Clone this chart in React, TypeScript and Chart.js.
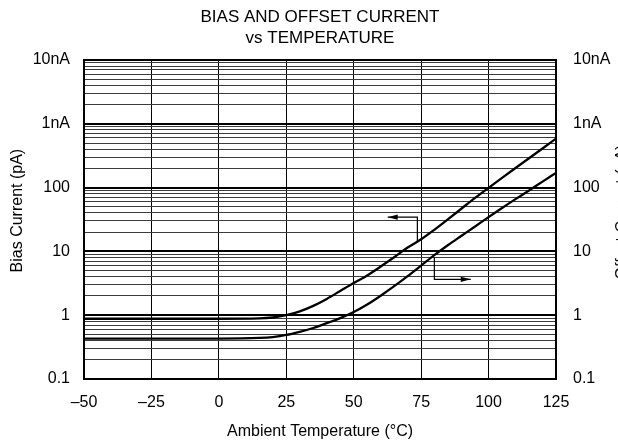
import { useEffect, useRef } from "react";
import { Chart, registerables } from "chart.js";
Chart.register(...registerables);

// ---- data ----
const TEMPS = [-50, -25, 0, 15, 20, 25, 30, 35, 40, 45, 50, 55, 60, 65, 70, 75, 80, 85, 90, 95, 100, 105, 110, 115, 120, 125];
const BIAS_PA = [0.88, 0.88, 0.88, 0.89, 0.92, 1.0, 1.15, 1.4, 1.8, 2.4, 3.2, 4.2, 5.8, 8.1, 11.5, 15.5, 22, 32, 47, 69, 99, 142, 203, 288, 410, 585];
const OFFSET_PA = [0.43, 0.43, 0.43, 0.44, 0.455, 0.49, 0.55, 0.63, 0.75, 0.9, 1.12, 1.47, 2.02, 2.85, 4.1, 6.0, 8.8, 12.6, 17.6, 24.6, 34.5, 48, 66, 90, 124, 170];

const X_TICKS = [-50, -25, 0, 25, 50, 75, 100, 125];
const Y_DECADES = [0.1, 1, 10, 100, 1000];
const Y_MINOR_MULT = [1, 2, 3, 4, 5, 6, 7, 8, 9];
const Y_LABEL_VALUES = [0.1, 1, 10, 100, 1000, 10000];
const Y_LABEL_TEXT = ["0.1", "1", "10", "100", "1nA", "10nA"];

// annotation arrows (data units: temperature, pA)
const ARROW_BIAS_T = [73.6, 73.6, 62.6];
const ARROW_BIAS_V = [14.5, 34.4, 34.4];
const ARROW_OFFSET_T = [79.9, 79.9, 93.4];
const ARROW_OFFSET_V = [8.0, 3.65, 3.65];

const TITLE = ["BIAS AND OFFSET CURRENT", "vs TEMPERATURE"];
const X_TITLE = "Ambient Temperature (°C)";
const Y_TITLE = "    Bias Current (pA)";
const Y2_TITLE = "Offset Current (pA)";

const FONT = "'Liberation Sans', Arial, sans-serif";
const W = 640;
const H = 444;

const yTickValues = (): number[] => {
  const v: number[] = [];
  Y_DECADES.forEach((d) => Y_MINOR_MULT.forEach((m) => v.push(+(m * d).toPrecision(4))));
  v.push(10000);
  return v;
};
const isPow10 = (v: number) => Math.abs(Math.log10(v) - Math.round(Math.log10(v))) < 1e-9;
const yLabel = (v: number) => {
  const i = Y_LABEL_VALUES.findIndex((lv) => Math.abs(lv - v) / lv < 1e-9);
  return i >= 0 ? Y_LABEL_TEXT[i] : "";
};

const arrowsPlugin = {
  id: "arrows",
  afterDatasetsDraw(chart: any) {
    const { ctx, scales } = chart;
    const xs = scales.x;
    const ys = scales.y;
    const drawArrow = (ts: number[], vs: number[]) => {
      const pts = ts.map((t, i) => [xs.getPixelForValue(t), ys.getPixelForValue(vs[i])]);
      ctx.save();
      ctx.strokeStyle = "#000";
      ctx.fillStyle = "#000";
      ctx.lineWidth = 1.2;
      ctx.beginPath();
      ctx.moveTo(pts[0][0], pts[0][1]);
      for (let i = 1; i < pts.length; i++) ctx.lineTo(pts[i][0], pts[i][1]);
      ctx.stroke();
      const [x1, y1] = pts[pts.length - 2];
      const [x2, y2] = pts[pts.length - 1];
      const a = Math.atan2(y2 - y1, x2 - x1);
      const len = 10;
      const hw = 2.6;
      ctx.beginPath();
      ctx.moveTo(x2, y2);
      ctx.lineTo(x2 - len * Math.cos(a) + hw * Math.sin(a), y2 - len * Math.sin(a) - hw * Math.cos(a));
      ctx.lineTo(x2 - len * Math.cos(a) - hw * Math.sin(a), y2 - len * Math.sin(a) + hw * Math.cos(a));
      ctx.closePath();
      ctx.fill();
      ctx.restore();
    };
    drawArrow(ARROW_BIAS_T, ARROW_BIAS_V);
    drawArrow(ARROW_OFFSET_T, ARROW_OFFSET_V);
  },
  afterDraw(chart: any) {
    const { ctx, chartArea } = chart;
    ctx.save();
    ctx.strokeStyle = "#000";
    ctx.lineWidth = 2;
    ctx.strokeRect(chartArea.left, chartArea.top, chartArea.right - chartArea.left, chartArea.bottom - chartArea.top);
    // right axis title (rotated, reading bottom to top), mostly outside the visible page
    ctx.fillStyle = "#000";
    ctx.font = `16px ${FONT}`;
    ctx.translate(626.5, 212);
    ctx.rotate(-Math.PI / 2);
    ctx.textAlign = "center";
    ctx.textBaseline = "alphabetic";
    ctx.fillText(Y2_TITLE, 0, 0);
    ctx.restore();
  },
};

export default function App() {
  const ref = useRef<HTMLCanvasElement | null>(null);
  useEffect(() => {
    if (!ref.current) return;
    const tickFont = { family: FONT, size: 16 };
    const chart = new Chart(ref.current, {
      type: "line",
      data: {
        datasets: [
          {
            label: "Bias Current",
            data: TEMPS.map((t, i) => ({ x: t, y: BIAS_PA[i] })),
            borderColor: "#000",
            borderWidth: 2.3,
            pointRadius: 0,
            cubicInterpolationMode: "monotone",
            yAxisID: "y",
          },
          {
            label: "Offset Current",
            data: TEMPS.map((t, i) => ({ x: t, y: OFFSET_PA[i] })),
            borderColor: "#000",
            borderWidth: 2.3,
            pointRadius: 0,
            cubicInterpolationMode: "monotone",
            yAxisID: "y2",
          },
        ],
      },
      options: {
        responsive: false,
        animation: false,
        devicePixelRatio: 1,
        color: "#000",
        layout: { padding: 0 },
        plugins: {
          legend: { display: false },
          tooltip: { enabled: false },
          title: {
            display: true,
            text: TITLE,
            color: "#000",
            font: { family: FONT, size: 17, weight: "normal", lineHeight: 21 / 17 },
            padding: { top: 6.5, bottom: 11.5 },
          },
        },
        scales: {
          x: {
            type: "linear",
            min: -50,
            max: 125,
            afterBuildTicks: (s: any) => {
              s.ticks = X_TICKS.map((v) => ({ value: v }));
            },
            afterFit: (s: any) => {
              s.height = 65;
            },
            ticks: {
              color: "#000",
              font: tickFont,
              padding: 14,
              autoSkip: false,
              maxRotation: 0,
              callback: (v: any) => (v < 0 ? "\u2013" + Math.abs(v) : String(v)),
            },
            grid: { color: "#000", lineWidth: 1, drawTicks: false },
            border: { display: true, color: "#000", width: 2 },
            title: {
              display: true,
              text: X_TITLE,
              color: "#000",
              font: { family: FONT, size: 16 },
              padding: { top: 0, bottom: 3 },
            },
          },
          y: {
            type: "logarithmic",
            position: "left",
            min: 0.1,
            max: 10000,
            afterBuildTicks: (s: any) => {
              s.ticks = yTickValues().map((v) => ({ value: v, major: isPow10(v) }));
            },
            afterFit: (s: any) => {
              s.width = 84;
            },
            ticks: {
              color: "#000",
              font: tickFont,
              padding: 14,
              autoSkip: false,
              callback: (v: any) => yLabel(Number(v)),
            },
            grid: {
              drawTicks: false,
              color: (c: any) => (c.tick && isPow10(c.tick.value) ? "#000" : "#3c3c3c"),
              lineWidth: (c: any) => (c.tick && isPow10(c.tick.value) ? 2 : 1),
            },
            border: { display: true, color: "#000", width: 2 },
            title: {
              display: true,
              text: Y_TITLE,
              color: "#000",
              font: { family: FONT, size: 16 },
              padding: { top: 8, bottom: 0 },
            },
          },
          y2: {
            type: "logarithmic",
            position: "right",
            min: 0.1,
            max: 10000,
            afterBuildTicks: (s: any) => {
              s.ticks = Y_LABEL_VALUES.map((v) => ({ value: v, major: true }));
            },
            afterFit: (s: any) => {
              s.width = W - 556;
            },
            ticks: {
              color: "#000",
              font: tickFont,
              padding: 17,
              autoSkip: false,
              callback: (v: any) => yLabel(Number(v)),
            },
            grid: { display: false, drawTicks: false },
            border: { display: true, color: "#000", width: 2 },
          },
        },
      } as any,
      plugins: [arrowsPlugin],
    });
    return () => chart.destroy();
  }, []);

  return (
    <div
      style={{
        position: "absolute",
        left: 0,
        top: 0,
        width: 618,
        height: 444,
        overflow: "hidden",
        background: "#fff",
      }}
    >
      <canvas ref={ref} width={W} height={H} style={{ display: "block" }} />
    </div>
  );
}
